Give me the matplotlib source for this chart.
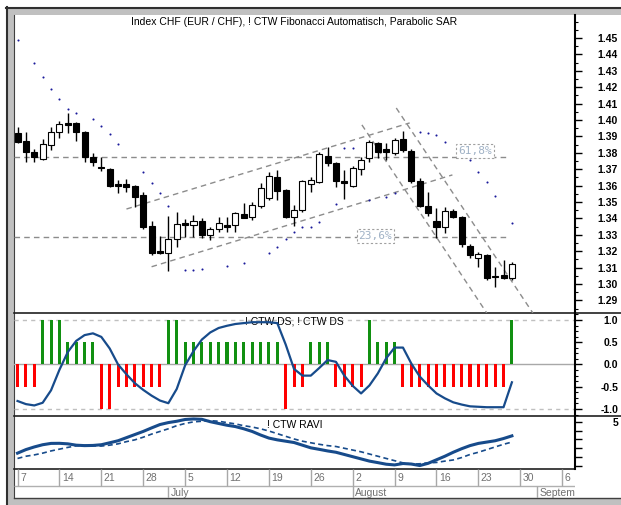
import numpy as np
import matplotlib
matplotlib.use('Agg')
import matplotlib.pyplot as plt
from matplotlib.patches import Rectangle
from matplotlib.ticker import MultipleLocator, FixedLocator

plt.rcParams['font.family'] = ['Liberation Sans', 'DejaVu Sans']

# ---- data ----
opens = [1.3919, 1.3874, 1.3807, 1.3762, 1.3848, 1.3925, 1.3980, 1.3980, 1.3929, 1.3776,
         1.3715, 1.3701, 1.3608, 1.3610, 1.3598, 1.3543, 1.3354, 1.3203, 1.3187, 1.3272,
         1.3374, 1.3360, 1.3386, 1.3299, 1.3334, 1.3360, 1.3360, 1.3427, 1.3407, 1.3476,
         1.3523, 1.3654, 1.3573, 1.3407, 1.3451, 1.3610, 1.3624, 1.3780, 1.3740, 1.3628,
         1.3600, 1.3701, 1.3766, 1.3858, 1.3821, 1.3797, 1.3882, 1.3813, 1.3630, 1.3476,
         1.3386, 1.3346, 1.3445, 1.3410, 1.3232, 1.3160, 1.3177, 1.3050, 1.3055, 1.3035]
highs = [1.3955, 1.3925, 1.3821, 1.3882, 1.3955, 1.3996, 1.4045, 1.3985, 1.3935, 1.3797,
         1.3776, 1.3705, 1.3634, 1.3638, 1.3605, 1.3560, 1.3386, 1.3293, 1.3415, 1.3441,
         1.3396, 1.3421, 1.3400, 1.3350, 1.3406, 1.3406, 1.3441, 1.3496, 1.3502, 1.3618,
         1.3685, 1.3695, 1.3580, 1.3482, 1.3634, 1.3654, 1.3807, 1.3837, 1.3745, 1.3695,
         1.3720, 1.3776, 1.3878, 1.3868, 1.3858, 1.3888, 1.3935, 1.3820, 1.3644, 1.3563,
         1.3461, 1.3468, 1.3455, 1.3415, 1.3244, 1.3197, 1.3180, 1.3105, 1.3146, 1.3136]
lows = [1.3858, 1.3746, 1.3742, 1.3756, 1.3817, 1.3888, 1.3923, 1.3872, 1.3742, 1.3720,
        1.3691, 1.3590, 1.3553, 1.3563, 1.3468, 1.3335, 1.3177, 1.3183, 1.3081, 1.3227,
        1.3289, 1.3289, 1.3279, 1.3268, 1.3319, 1.3319, 1.3319, 1.3401, 1.3390, 1.3462,
        1.3512, 1.3512, 1.3401, 1.3354, 1.3441, 1.3563, 1.3618, 1.3721, 1.3590, 1.3516,
        1.3590, 1.3665, 1.3746, 1.3766, 1.3756, 1.3787, 1.3807, 1.3614, 1.3468, 1.3415,
        1.3279, 1.3313, 1.3401, 1.3227, 1.3157, 1.3106, 1.3024, 1.2984, 1.3029, 1.3024]
closes = [1.3868, 1.3807, 1.3776, 1.3852, 1.3925, 1.3974, 1.3968, 1.3929, 1.3773, 1.3743,
          1.3706, 1.3598, 1.3598, 1.3590, 1.3532, 1.3349, 1.3191, 1.3191, 1.3272, 1.3364,
          1.3360, 1.3386, 1.3299, 1.3334, 1.3374, 1.3349, 1.3431, 1.3401, 1.3482, 1.3587,
          1.3659, 1.3567, 1.3410, 1.3451, 1.3628, 1.3634, 1.3793, 1.3736, 1.3630, 1.3618,
          1.3705, 1.3756, 1.3868, 1.3807, 1.3807, 1.3878, 1.3817, 1.3630, 1.3476, 1.3435,
          1.3346, 1.3445, 1.3410, 1.3244, 1.3177, 1.3183, 1.3035, 1.3045, 1.3038, 1.3122]

sar_idx = [0, 2, 3, 4, 5, 6, 7, 9, 10, 11, 12, 15, 16, 17, 18,
           20, 21, 22, 25, 27, 30, 31, 32, 33, 34, 35, 36, 38,
           39, 40, 42, 44, 45, 48, 49, 50, 51, 54, 55, 56, 57, 59]
sar_val = [1.4488, 1.4346, 1.4264, 1.4187, 1.4128, 1.4069, 1.4045, 1.4006, 1.3963, 1.3912,
           1.3852, 1.3683, 1.3618, 1.3553, 1.3474,
           1.3085, 1.3085, 1.3090, 1.3112, 1.3130, 1.3187, 1.3227, 1.3273, 1.3317, 1.3346,
           1.3346, 1.3380, 1.3488,
           1.3827, 1.3827, 1.3512, 1.3533, 1.3553, 1.3929, 1.3923, 1.3909, 1.3863,
           1.3756, 1.3685, 1.3624, 1.3534, 1.3372]

# trend channels: (start index, start price, end index, end price)
trend_lines = [(13.0, 1.3457, 46.8, 1.3982),
               (16.0, 1.3105, 51.9, 1.3665),
               (45.2, 1.4073, 61.5, 1.2823),
               (41.1, 1.3970, 56.0, 1.2823)]
fib_levels = [1.3774, 1.3287]
fib_labels = ['61,8%', '23,6%']
fib_label_pos = [(54.6, 1.3811), (42.7, 1.3293)]
fib_end = 58.5

ds_bars = [-0.5, -0.5, -0.5, 1.0, 1.0, 1.0, 0.5, 0.5, 0.5, 0.5,
           -1.0, -1.0, -0.5, -0.5, -0.5, -0.5, -0.5, -0.5, 1.0, 1.0,
           0.5, 0.5, 0.5, 0.5, 0.5, 0.5, 0.5, 0.5, 0.5, 0.5,
           0.5, 0.5, -1.0, -0.5, -0.5, 0.5, 0.5, 0.5, -0.5, -0.5,
           -0.5, -0.5, 1.0, 0.5, 0.5, 0.5, -0.5, -0.5, -0.5, -0.5,
           -0.5, -0.5, -0.5, -0.5, -0.5, -0.5, -0.5, -0.5, -0.5, 1.0]
ds_line = [-0.82, -0.89, -0.92, -0.86, -0.58, -0.12, 0.28, 0.53, 0.66, 0.70,
           0.62, 0.36, 0.00, -0.22, -0.42, -0.57, -0.70, -0.81, -0.87, -0.55,
           -0.02, 0.30, 0.56, 0.72, 0.82, 0.87, 0.91, 0.93, 0.95, 0.95,
           0.95, 0.93, 0.45, -0.10, -0.25, -0.25, -0.08, 0.10, 0.06, -0.25,
           -0.48, -0.65, -0.47, -0.20, 0.14, 0.38, 0.38, 0.02, -0.27, -0.47,
           -0.65, -0.76, -0.85, -0.90, -0.94, -0.95, -0.96, -0.96, -0.96, -0.40]

ravi = [1.45, 1.85, 2.15, 2.40, 2.55, 2.56, 2.50, 2.35, 2.30, 2.32,
        2.40, 2.62, 2.85, 3.20, 3.55, 3.90, 4.30, 4.68, 4.90, 5.05,
        5.25, 5.31, 5.27, 5.00, 4.80, 4.60, 4.45, 4.20, 3.90, 3.50,
        3.15, 2.95, 2.80, 2.65, 2.35, 2.05, 1.88, 1.70, 1.55, 1.30,
        1.05, 0.80, 0.55, 0.38, 0.20, 0.12, 0.28, 0.22, 0.05, 0.30,
        0.70, 1.10, 1.55, 1.95, 2.30, 2.55, 2.70, 2.85, 3.10, 3.40]
ravi_sig = [0.85, 1.10, 1.25, 1.45, 1.70, 1.90, 2.10, 2.28, 2.32, 2.28,
            2.25, 2.35, 2.50, 2.75, 2.95, 3.25, 3.60, 3.90, 4.20, 4.55,
            4.80, 4.98, 5.05, 5.12, 5.05, 4.90, 4.75, 4.55, 4.40, 4.20,
            3.95, 3.65, 3.35, 3.05, 2.80, 2.62, 2.45, 2.30, 2.20, 2.00,
            1.80, 1.60, 1.35, 1.10, 0.85, 0.60, 0.35, 0.20, 0.25, 0.35,
            0.40, 0.55, 0.68, 0.95, 1.30, 1.55, 1.85, 2.15, 2.45, 2.70]

week_idx = [0, 5, 10, 15, 20, 25, 30, 35, 40, 45, 50, 55, 60, 65]
week_labels = ['7', '14', '21', '28', '5', '12', '19', '26', '2', '9', '16', '23', '30', '6']
month_idx = [18, 40, 62]
month_labels = ['July', 'August', 'September']

title = 'Index CHF (EUR / CHF), ! CTW Fibonacci Automatisch, Parabolic SAR'

# ---- figure ----
W, H = 621, 505
fig = plt.figure(figsize=(W / 100, H / 100), dpi=100)


def px_rect(x0, y0, x1, y1):
    return [x0 / W, 1 - y1 / H, (x1 - x0) / W, (y1 - y0) / H]


XL = (-0.42, 66.53)
x = np.arange(len(opens))
navy = '#174b8b'

bg = fig.add_axes([0, 0, 1, 1])
bg.set_xlim(0, W)
bg.set_ylim(H, 0)
bg.axis('off')
bg.add_patch(Rectangle((6, 7), W - 6, 8, color='#c0c0c0', lw=0))
bg.add_patch(Rectangle((6, 7), 8, H - 7, color='#c0c0c0', lw=0))
bg.add_patch(Rectangle((6, 498), W - 6, 7, color='#c0c0c0', lw=0))
bg.plot([6, W], [7.5, 7.5], color='#303030', lw=1.5)
bg.plot([6.5, 6.5], [7, H], color='#303030', lw=1.5)
bg.plot([14, 14], [15, 498], color='#404040', lw=0.8)
bg.plot([14, W], [313, 313], color='#202020', lw=1.2)
bg.plot([14, W], [415.5, 415.5], color='#202020', lw=1.2)
bg.plot([14, 575], [469, 469], color='#202020', lw=1.2)
bg.plot([14, W], [498, 498], color='#404040', lw=1)


def style_right(ax):
    for s in ['top', 'left', 'bottom']:
        ax.spines[s].set_visible(False)
    ax.spines['right'].set_linewidth(1.5)
    ax.set_facecolor('none')
    ax.set_xlim(*XL)
    ax.set_xticks([])
    ax.yaxis.tick_right()
    ax.tick_params(axis='y', which='major', length=5, width=1, pad=26, labelsize=7.5)
    ax.tick_params(axis='y', which='minor', length=2.5, width=0.8)
    for lab in ax.get_yticklabels():
        lab.set_ha('right')
        lab.set_fontweight('bold')


# main price panel
ax = fig.add_axes(px_rect(14, 15, 575, 313))
ax.set_ylim(1.2823, 1.4640)
ax.yaxis.set_major_locator(FixedLocator(np.round(np.arange(1.29, 1.455, 0.01), 2)))
ax.yaxis.set_major_formatter(plt.FuncFormatter(lambda v, p: '%.2f' % v))
ax.yaxis.set_minor_locator(MultipleLocator(0.005))
style_right(ax)

for lv in fib_levels:
    ax.hlines(lv, XL[0], fib_end, color='#8c8c8c', lw=1, linestyles=(0, (4, 3)))
for (xs, ys, xe, ye) in trend_lines:
    ax.plot([xs, xe], [ys, ye], color='#8c8c8c', lw=1, ls=(0, (4, 3)), clip_on=True)
for lab, (lx, ly) in zip(fib_labels, fib_label_pos):
    ax.text(lx, ly, lab, ha='center', va='center', fontsize=8, color='#a0b2c6',
            family='DejaVu Sans Mono',
            bbox=dict(boxstyle='square,pad=0.15', fc='white', ec='#a0a0a0', ls=(0, (2, 2)), lw=0.8))

ax.vlines(x, lows, highs, color='black', lw=1, zorder=3)
o = np.array(opens)
c = np.array(closes)
body_h = np.maximum(np.abs(c - o), 0.0005)
body_col = ['black' if cc < oo else 'white' for oo, cc in zip(o, c)]
ax.bar(x, body_h, bottom=np.minimum(o, c), width=0.72, color=body_col,
       edgecolor='black', linewidth=0.8, zorder=4)
ax.plot(sar_idx, sar_val, ls='none', marker='o', ms=1.5, color='#1a1a9a', mec='none', zorder=5)

fig.text(294.5 / W, 1 - 22 / H, title, ha='center', va='center', fontsize=7.5, color='black')

# DS panel
ax2 = fig.add_axes(px_rect(14, 313, 575, 415.5))
ax2.set_ylim(-1.146, 1.157)
ax2.set_yticks([-1.0, -0.5, 0.0, 0.5, 1.0])
ax2.yaxis.set_major_formatter(plt.FuncFormatter(lambda v, p: '%.1f' % v))
ax2.yaxis.set_minor_locator(MultipleLocator(0.125))
style_right(ax2)
ax2.axhline(0, color='#a8a8a8', lw=1)
ax2.axhline(1, color='#c0c0c0', lw=1, ls=(0, (3, 3)))
ax2.axhline(-1, color='#c0c0c0', lw=1, ls=(0, (3, 3)))
ds_col = ['#119011' if v > 0 else '#ff0000' for v in ds_bars]
ax2.bar(x, ds_bars, width=0.36, color=ds_col, zorder=3)
ax2.plot(x, ds_line, color=navy, lw=1.6, zorder=4)
ax2.text(0.5, 0.915, '! CTW DS, ! CTW DS', transform=ax2.transAxes, ha='center', va='center',
         fontsize=7.5, color='black')

# RAVI panel
ax3 = fig.add_axes(px_rect(14, 415.5, 575, 469))
ax3.set_ylim(-0.34, 5.70)
ax3.set_yticks([0, 1, 2, 3, 4, 5])
ax3.set_yticklabels(['', '', '', '', '', '5'])
style_right(ax3)
ax3.plot(x, ravi_sig, color=navy, lw=1.2, ls=(0, (3, 2)))
ax3.plot(x, ravi, color=navy, lw=2.2)
ax3.text(0.5, 0.83, '! CTW RAVI', transform=ax3.transAxes, ha='center', va='center',
         fontsize=7.5, color='black')

# date rows
ax4 = fig.add_axes(px_rect(14, 469, 575, 498))
ax4.set_xlim(*XL)
ax4.set_ylim(29, 0)
ax4.axis('off')
ax4.hlines(17, XL[0], XL[1], color='#b0b0b0', lw=1)
ax4.vlines(week_idx, 0, 17, color='#a8a8a8', lw=1)
ax4.vlines(month_idx, 17, 29, color='#a8a8a8', lw=1)
for wi, wl in zip(week_idx, week_labels):
    ax4.text(wi + 0.3, 9, wl, ha='left', va='center', fontsize=7.5, color='#707070', clip_on=True)
for mi, ml in zip(month_idx, month_labels):
    ax4.text(mi + 0.3, 23.5, ml, ha='left', va='center', fontsize=7.5, color='#707070', clip_on=True)

fig.savefig('out.png', dpi=100, facecolor='white')
